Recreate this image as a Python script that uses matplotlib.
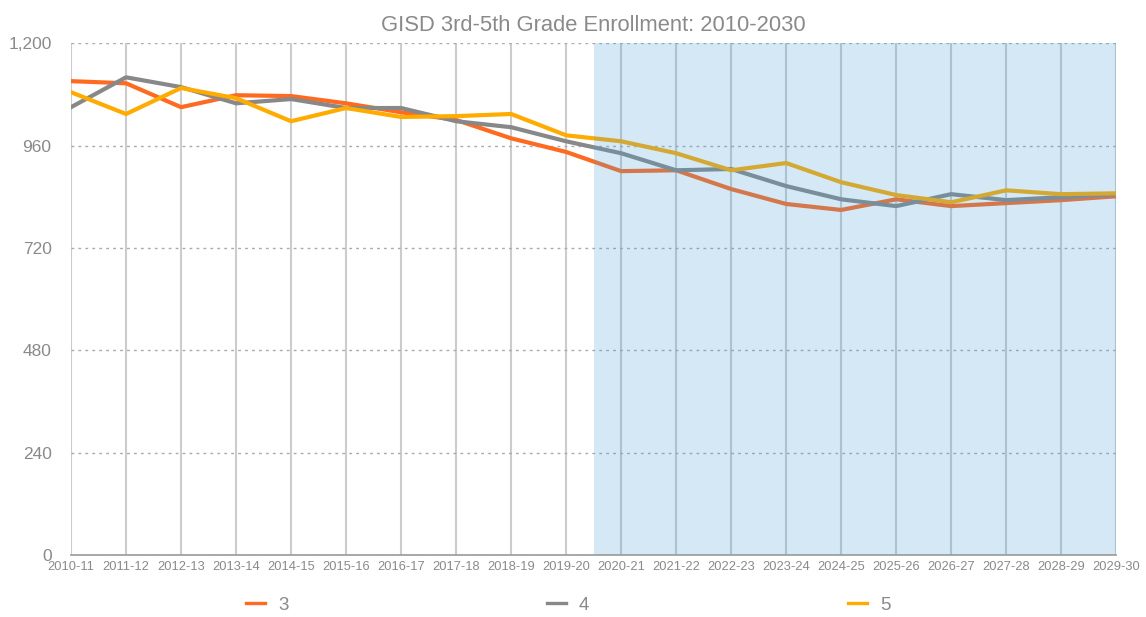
import matplotlib
matplotlib.use("Agg")
import matplotlib.pyplot as plt
from matplotlib.ticker import FuncFormatter

plt.rcParams['font.family'] = ['Liberation Sans', 'DejaVu Sans']

# school years on the x axis
years = ['2010-11', '2011-12', '2012-13', '2013-14', '2014-15', '2015-16',
         '2016-17', '2017-18', '2018-19', '2019-20', '2020-21', '2021-22',
         '2022-23', '2023-24', '2024-25', '2025-26', '2026-27', '2027-28',
         '2028-29', '2029-30']

# enrollment by grade
grade3 = [1111, 1106, 1050, 1078, 1076, 1059, 1038, 1020, 977, 945,
          900, 902, 858, 823, 809, 834, 818, 825, 832, 841]
grade4 = [1050, 1120, 1097, 1059, 1069, 1048, 1048, 1017, 1003, 970,
          942, 902, 905, 865, 834, 818, 846, 832, 839, 846]
grade5 = [1085, 1034, 1095, 1071, 1017, 1048, 1027, 1029, 1034, 984,
          970, 942, 902, 919, 874, 844, 827, 855, 846, 848]

yticks = [0, 240, 480, 720, 960, 1200]
proj_start = 9.5  # projected years shaded

txt = '#8a8a8a'

fig = plt.figure(figsize=(11.46, 6.17), dpi=100)
ax = fig.add_axes([0.062, 0.1005, 0.912, 0.8295])

x = list(range(len(years)))
ax.plot(x, grade3, color='#ff6a21', lw=3, label='3', zorder=3)
ax.plot(x, grade4, color='#888888', lw=3, label='4', zorder=3)
ax.plot(x, grade5, color='#ffab00', lw=3, label='5', zorder=3)

# shaded projection band drawn over the lines
ax.axvspan(proj_start, len(years) - 1, color='#4ca3d9', alpha=0.24, lw=0, zorder=4)

ax.set_xlim(0, len(years) - 1)
ax.set_ylim(0, 1200)
ax.set_xticks(x)
ax.set_xticklabels(years, fontsize=9.3, color=txt)
ax.set_yticks(yticks)
ax.yaxis.set_major_formatter(FuncFormatter(lambda v, p: f'{int(v):,}'))
ax.tick_params(axis='y', length=0, pad=14, labelsize=12.5, labelcolor=txt)
ax.tick_params(axis='x', length=0, pad=4)

ax.yaxis.grid(True, color='#aaaaaa', ls=(0, (2, 3)), lw=1, zorder=1)
ax.xaxis.grid(True, color='#cccccc', ls='-', lw=1.5, zorder=1)
ax.set_axisbelow(True)
for s in ['top', 'right', 'left']:
    ax.spines[s].set_visible(False)
ax.spines['bottom'].set_color('#999999')
ax.spines['bottom'].set_linewidth(1.2)
ax.spines['bottom'].set_zorder(5)

ax.set_title('GISD 3rd-5th Grade Enrollment: 2010-2030', fontsize=15.8,
             color=txt, pad=9)

leg = fig.legend(loc='center', bbox_to_anchor=(0.496, 0.019), ncol=3,
                 frameon=False, fontsize=13.5, handlelength=1.0,
                 handletextpad=0.7, columnspacing=13.8)
for t in leg.get_texts():
    t.set_color(txt)
for h in leg.get_lines():
    h.set_linewidth(2.4)

fig.savefig('out.png', dpi=100)
